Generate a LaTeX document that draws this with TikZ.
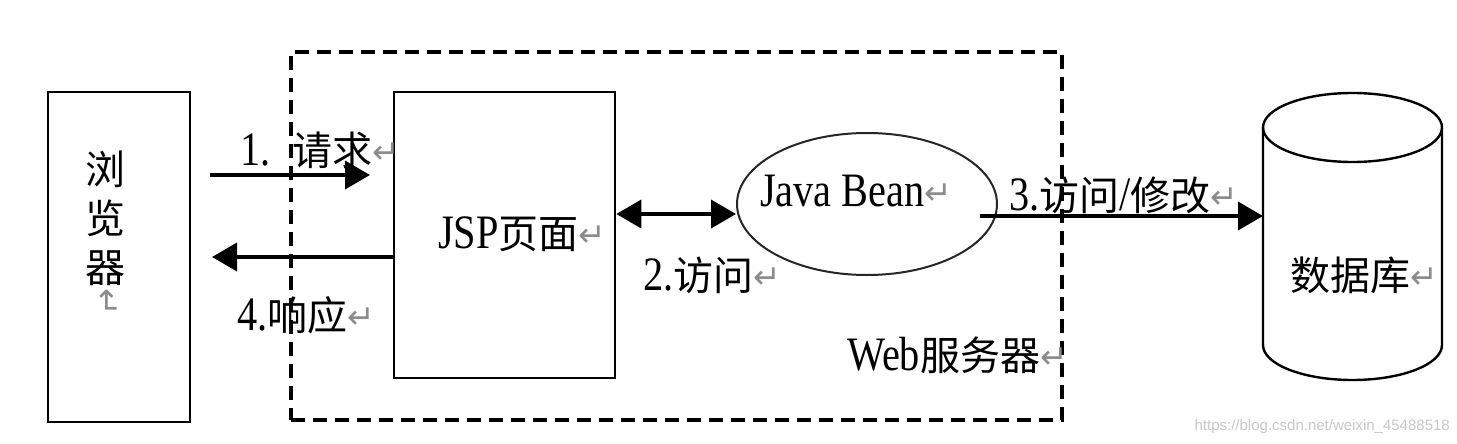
\documentclass[tikz,border=0pt]{standalone}
\usepackage{fontspec}
\setmainfont[FakeStretch=0.84]{Liberation Serif}
\newfontfamily\cjk{Noto Sans CJK SC}
\newfontfamily\dejavu{DejaVu Sans}
\newfontfamily\wmfont{Liberation Sans}
\usetikzlibrary{arrows.meta,shapes.geometric}
\definecolor{retgray}{RGB}{140,140,140}
\definecolor{wmgray}{RGB}{200,200,200}
\newcommand{\zh}[1]{{\cjk\fontsize{40}{42}\selectfont #1}}
\newcommand{\retmark}{\raisebox{2pt}{\dejavu\fontsize{33}{33}\selectfont\textcolor{retgray}{↵}}}
\begin{document}
\begin{tikzpicture}[x=1pt,y=-1pt,
  box/.style={draw, line width=2.6pt, inner sep=0pt},
  arr/.style={line width=3.8pt, -{Triangle[length=25pt,width=28pt]}},
  darr/.style={line width=3.8pt, {Triangle[length=25pt,width=28pt]}-{Triangle[length=25pt,width=28pt]}},
  lbl/.style={inner sep=0pt, anchor=base west, font=\fontsize{48}{50}\selectfont}]
\fill[white] (0,0) rectangle (1457,444);
\useasboundingbox (0,0) rectangle (1457,444);
% server (dashed)
\node[draw, line width=3.2pt, dash pattern=on 14pt off 8pt, minimum width=771pt, minimum height=368pt, inner sep=0pt] (server) at (676.5,236) {};
% boxes
\node[box, minimum width=142pt, minimum height=330pt] (browser) at (119,257) {};
\node[box, minimum width=221pt, minimum height=286pt] (jsp) at (504.5,235) {};
\node[draw=black!85, ellipse, line width=2pt, minimum width=260pt, minimum height=142pt, inner sep=0pt] (bean) at (867,204) {};
% cylinder
\draw[line width=2.4pt] (1352.5,127.5) ellipse [x radius=89.5, y radius=34.5];
\draw[line width=2.4pt] (1263,127.5) -- (1263,345) arc[start angle=180, end angle=0, x radius=89.5, y radius=35] -- (1442,127.5);
\coordinate (dbl) at (1263,216);
% arrows
\coordinate (a1s) at (210,175);
\coordinate (a1e) at (370,175);
\draw[arr] (a1s) -- (a1e);
\coordinate (a4) at (212,257);
\draw[arr] (jsp.west |- a4) -- (a4);
\coordinate (a2) at (0,214);
\draw[darr] (jsp.east |- a2) -- (bean.west |- a2);
\coordinate (a3s) at (980,216);
\draw[arr] (a3s) -- (dbl);
% labels
\node[lbl] (l1) at (240,165) {1.\hspace{22pt}\zh{请求}\retmark};
\node[lbl] (l4) at (237,330) {4.\zh{响应}\retmark};
\node[lbl] (ljsp) at (438,248) {JSP\zh{页面}\retmark};
\node[lbl] (l2) at (643,290) {2.\zh{访问}\retmark};
\node[lbl] (lbean) at (760,206) {Java Bean\retmark};
\node[lbl] (l3) at (1009,210) {3.\zh{访问}/\zh{修改}\retmark};
\node[lbl] (ldb) at (1290,290) {\zh{数据库}\retmark};
\node[lbl] (lweb) at (847,370) {Web\zh{服务器}\retmark};
\node[inner sep=0pt, align=center, font=\cjk\fontsize{40}{49}\selectfont] (lbr) at (105,218) {浏\\览\\器};
\node[inner sep=0pt, rotate=-90, text=retgray, font=\dejavu\fontsize{33}{33}\selectfont] (lbrm) at (107,302) {↵};
\node[anchor=east, inner sep=0pt, text=wmgray, font=\wmfont\fontsize{15}{15}\selectfont] (wm) at (1450,427) {https://blog.csdn.net/weixin\_45488518};
\end{tikzpicture}
\end{document}
